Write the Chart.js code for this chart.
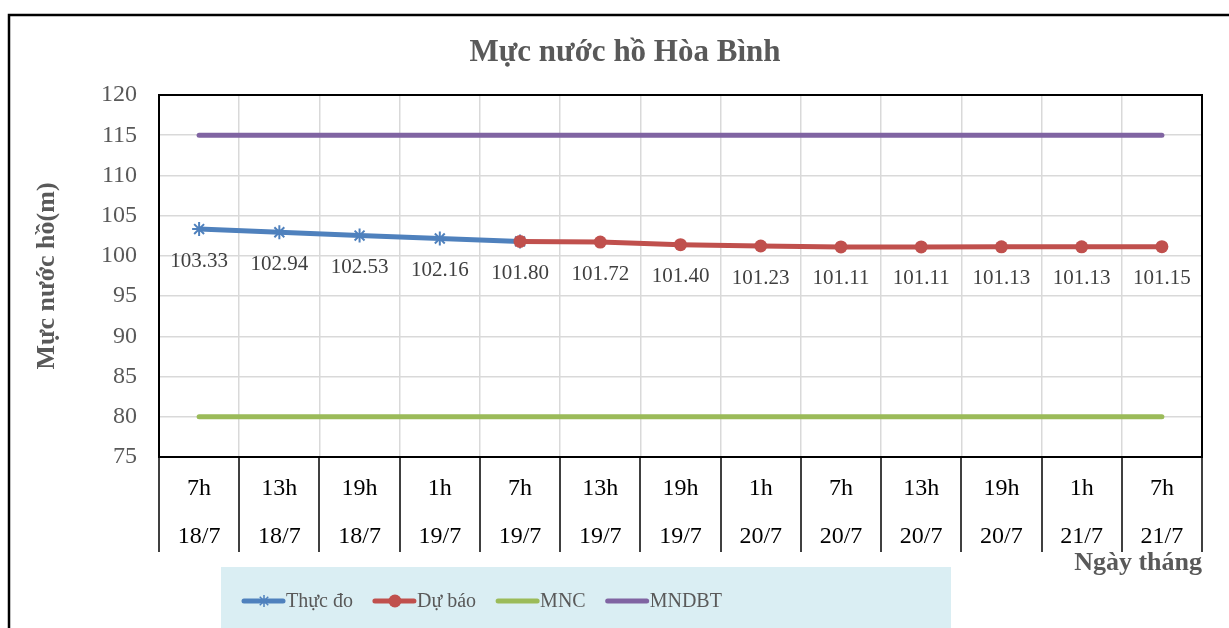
<!DOCTYPE html>
<html>
<head>
<meta charset="utf-8">
<script src="https://cdn.jsdelivr.net/npm/chart.js@4.4.1/dist/chart.umd.min.js"></script>
<style>
body{ margin:0; background:#fff; }
</style>
</head>
<body>
<canvas id="waterChart" width="1229" height="628"></canvas>
<script>
// ================= DATA =================
let timeLabels = ["7h","13h","19h","1h","7h","13h","19h","1h","7h","13h","19h","1h","7h"];
let dateLabels = ["18/7","18/7","18/7","19/7","19/7","19/7","19/7","20/7","20/7","20/7","20/7","21/7","21/7"];

let measured = [103.33,102.94,102.53,102.16,101.80,null,null,null,null,null,null,null,null];
let forecast = [null,null,null,null,101.80,101.72,101.40,101.23,101.11,101.11,101.13,101.13,101.15];
let mnc      = [80,80,80,80,80,80,80,80,80,80,80,80,80];
let mndbt    = [115,115,115,115,115,115,115,115,115,115,115,115,115];

let yMin = 75;
let yMax = 120;
let yStep = 5;

// ================= STYLE =================
const FONT = "'Liberation Serif', 'Times New Roman', serif";

// ================= FRAME / TITLE / LEGEND =================
let framePlugin = {

    id: "frame",

    beforeDraw(chart){

        let ctx = chart.ctx;

        ctx.save();

        ctx.fillStyle = "#fff";
        ctx.fillRect(0, 0, chart.width, chart.height);

        // outer border
        ctx.strokeStyle = "#000";
        ctx.lineWidth = 2.5;
        ctx.beginPath();
        ctx.moveTo(9, chart.height);
        ctx.lineTo(9, 15);
        ctx.lineTo(chart.width, 15);
        ctx.stroke();

        // title
        ctx.fillStyle = "#595959";
        ctx.font = "bold 31px " + FONT;
        ctx.textAlign = "center";
        ctx.textBaseline = "middle";
        ctx.fillText("Mực nước hồ Hòa Bình", 625, 53);

        // legend
        ctx.fillStyle = "#DAEEF3";
        ctx.fillRect(221, 567, 730, 70);

        let x = 244;
        let y = 601;

        ctx.font = "20px " + FONT;
        ctx.textAlign = "left";

        chart.data.datasets.forEach(ds => {

            ctx.strokeStyle = ds.borderColor;
            ctx.lineWidth = 5;
            ctx.lineCap = "round";
            ctx.beginPath();
            ctx.moveTo(x, y);
            ctx.lineTo(x + 39, y);
            ctx.stroke();

            if(ds.pointStyle === "circle"){

                ctx.fillStyle = ds.borderColor;
                ctx.beginPath();
                ctx.arc(x + 20, y, 6.5, 0, Math.PI * 2);
                ctx.fill();

            } else if(ds.pointStyle === "star"){

                ctx.lineWidth = 1.5;
                ctx.lineCap = "butt";
                ctx.beginPath();
                for(let a = 0; a < 4; a++){
                    let ang = a * Math.PI / 4;
                    ctx.moveTo(x + 20 - 6 * Math.cos(ang), y - 6 * Math.sin(ang));
                    ctx.lineTo(x + 20 + 6 * Math.cos(ang), y + 6 * Math.sin(ang));
                }
                ctx.stroke();

            }

            ctx.fillStyle = "#595959";
            ctx.fillText(ds.label, x + 42, y + 1);

            x += 42 + ctx.measureText(ds.label).width + 22;

        });

        ctx.restore();

    },

    afterDraw(chart){

        let ctx = chart.ctx;
        let area = chart.chartArea;
        let xScale = chart.scales.x;

        ctx.save();

        // plot border
        ctx.strokeStyle = "#000";
        ctx.lineWidth = 2;
        ctx.strokeRect(area.left, area.top, area.right - area.left, area.bottom - area.top);

        // category dividers under the axis
        ctx.lineWidth = 1.5;
        ctx.strokeStyle = "#000";
        for(let i = 0; i <= timeLabels.length; i++){
            let px = Math.round(xScale.getPixelForValue(i - 0.5));
            ctx.beginPath();
            ctx.moveTo(px, area.bottom);
            ctx.lineTo(px, 552);
            ctx.stroke();
        }

        ctx.restore();

    }

};

// ================= DATA LABELS =================
let labelPlugin = {

    id: "valueLabels",

    afterDatasetsDraw(chart){

        let ctx = chart.ctx;
        let m0 = chart.getDatasetMeta(0);
        let m1 = chart.getDatasetMeta(1);

        ctx.save();
        ctx.font = "21px " + FONT;
        ctx.fillStyle = "#404040";
        ctx.textAlign = "center";
        ctx.textBaseline = "middle";

        timeLabels.forEach((t, i) => {

            let value = measured[i] !== null ? measured[i] : forecast[i];
            let pt = measured[i] !== null ? m0.data[i] : m1.data[i];

            ctx.fillText(value.toFixed(2), pt.x, pt.y + 32);

        });

        ctx.restore();

    }

};

// ================= CHART =================
let ctx1 = document.getElementById("waterChart");

let waterChart = new Chart(ctx1, {

    type: "line",

    data: {

        labels: timeLabels.map((t, i) => [t, dateLabels[i]]),

        datasets: [

            {
                label: "Thực đo",
                data: measured,
                borderColor: "#4F81BD",
                backgroundColor: "#4F81BD",
                borderWidth: 5,
                pointStyle: "star",
                pointRadius: 7,
                pointBorderWidth: 2,
                order: 2
            },

            {
                label: "Dự báo",
                data: forecast,
                borderColor: "#C0504D",
                backgroundColor: "#C0504D",
                borderWidth: 5,
                pointStyle: "circle",
                pointRadius: 6.5,
                pointBorderWidth: 0,
                order: 1
            },

            {
                label: "MNC",
                data: mnc,
                borderColor: "#9BBB59",
                backgroundColor: "#9BBB59",
                borderWidth: 5,
                pointRadius: 0,
                borderCapStyle: "round",
                order: 3
            },

            {
                label: "MNDBT",
                data: mndbt,
                borderColor: "#8064A2",
                backgroundColor: "#8064A2",
                borderWidth: 5,
                pointRadius: 0,
                borderCapStyle: "round",
                order: 4
            }

        ]

    },

    options: {

        responsive: false,
        animation: false,
        spanGaps: false,

        layout: {
            padding: { left: 0, top: 95, right: 27, bottom: 0 }
        },

        plugins: {
            legend: { display: false },
            title: { display: false },
            tooltip: { enabled: false }
        },

        scales: {

            x: {
                offset: true,
                grid: {
                    offset: true,
                    color: "#D9D9D9",
                    lineWidth: 1.5,
                    drawTicks: false
                },
                border: { color: "#000", width: 2 },
                ticks: {
                    font: { family: FONT, size: 24, lineHeight: 2 },
                    color: "#000",
                    padding: 8,
                    maxRotation: 0,
                    autoSkip: false
                },
                title: {
                    display: true,
                    text: "Ngày tháng",
                    align: "end",
                    color: "#595959",
                    font: { family: FONT, size: 26, weight: "bold", lineHeight: 1.2 },
                    padding: { top: 0, bottom: 49 }
                },
                afterFit(scale){
                    scale.height = 171;
                }
            },

            y: {
                min: yMin,
                max: yMax,
                grid: {
                    color: "#D9D9D9",
                    lineWidth: 1.5,
                    drawTicks: false
                },
                border: { color: "#000", width: 2 },
                ticks: {
                    stepSize: yStep,
                    font: { family: FONT, size: 24 },
                    color: "#595959",
                    padding: 22
                },
                title: {
                    display: true,
                    text: "Mực nước hồ(m)",
                    color: "#595959",
                    font: { family: FONT, size: 26, weight: "bold", lineHeight: 1.2 },
                    padding: { top: 32, bottom: 0 }
                },
                afterFit(scale){
                    scale.width = 159;
                }
            }

        }

    },

    plugins: [framePlugin, labelPlugin]

});
</script>
</body>
</html>
